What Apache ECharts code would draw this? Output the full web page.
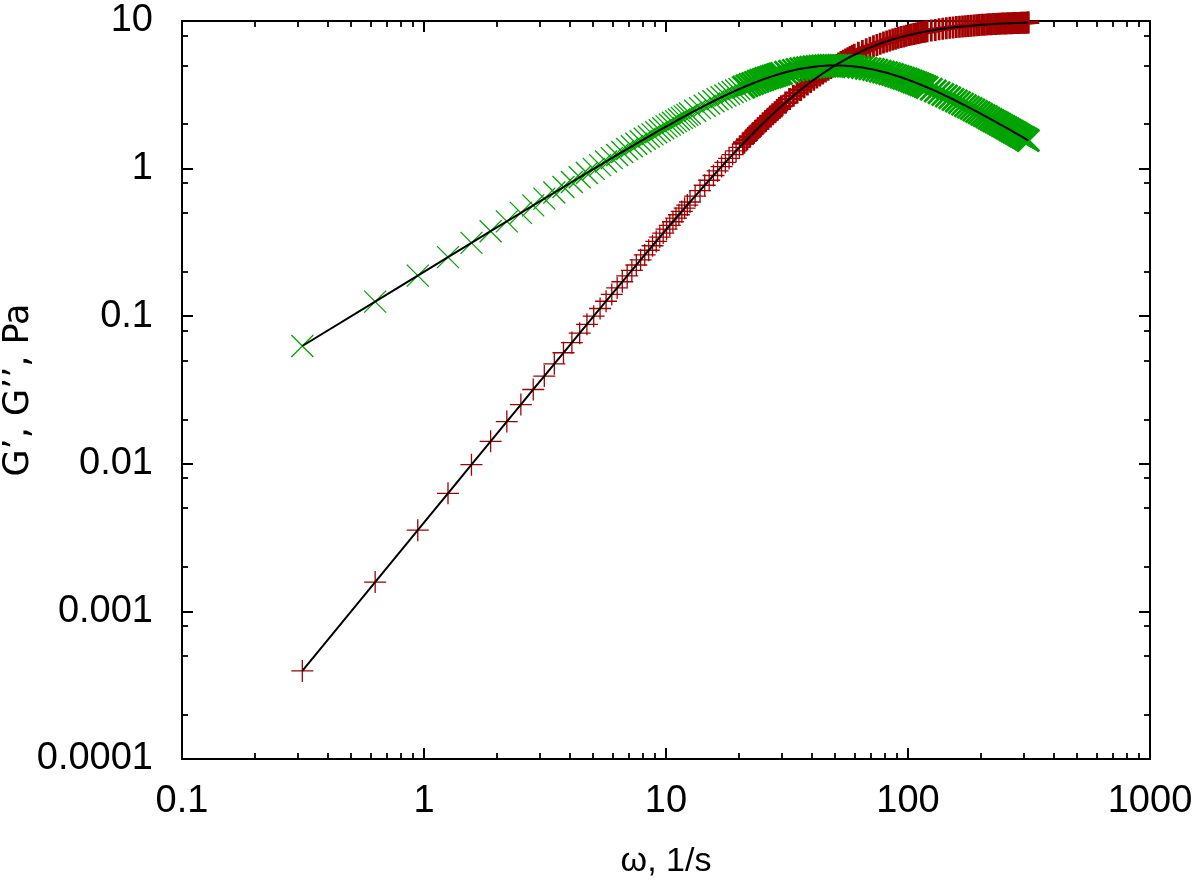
<!DOCTYPE html>
<html>
<head>
<meta charset="utf-8">
<title>G', G'' vs frequency</title>
<script src="https://cdn.jsdelivr.net/npm/echarts@6/dist/echarts.min.js"></script>
<style>
    html, body { margin: 0; padding: 0; background: #fff; }
    #chart { width: 1200px; height: 885px; }
</style>
</head>
<body>
<div id="chart"></div>
<script>
// angular frequency, 1/s
var omega = [
    0.3142, 0.6283, 0.9425, 1.2566, 1.5708, 1.8850, 2.1991, 2.5133, 2.8274, 3.1416,
    3.4558, 3.7699, 4.0841, 4.3982, 4.7124, 5.0265, 5.3407, 5.6549, 5.9690, 6.2832,
    6.5973, 6.9115, 7.2257, 7.5398, 7.8540, 8.1681, 8.4823, 8.7965, 9.1106, 9.4248,
    9.7389, 10.053, 10.367, 10.681, 10.996, 11.310, 11.624, 11.938, 12.252, 12.566,
    13.195, 13.823, 14.451, 15.080, 15.708, 16.336, 16.965, 17.593, 18.221, 18.850,
    19.478, 20.106, 20.735,
    21.0, 21.6, 22.2, 22.8, 23.4, 24.0, 24.6, 25.2, 25.8, 26.4, 27.0, 27.6, 28.2, 28.8, 29.4, 30.0,
    31.2, 32.4, 33.6, 34.8, 36.0, 37.2, 38.4, 39.6, 40.8, 42.0, 43.2, 44.4, 45.6, 46.8, 48.0,
    49.2, 50.4, 51.6, 52.8, 54.0, 55.2, 56.4, 57.6, 58.8, 60.0,
    62.4, 64.8, 67.2, 69.6, 72.0, 74.4, 76.8, 79.2, 81.6, 84.0, 86.4, 88.8, 91.2, 93.6, 96.0,
    98.4, 100.8, 103.2, 105.6, 108.0, 110.4, 112.8, 115.2, 117.6, 120.0,
    124.8, 129.6, 134.4, 139.2, 144.0, 148.8, 153.6, 158.4, 163.2, 168.0, 172.8, 177.6, 182.4,
    187.2, 192.0, 196.8, 201.6, 206.4, 211.2, 216.0, 220.8, 225.6, 230.4, 235.2, 240.0, 244.8,
    249.6, 254.4, 259.2, 264.0, 268.8, 273.6, 278.4, 283.2, 288.0, 292.8, 297.6, 302.4, 307.2,
    312.0, 314.16
];

// storage modulus G', Pa
var gStorage = [
    0.0003948, 0.001579, 0.003552, 0.006313, 0.009860, 0.01419, 0.01931, 0.02520, 0.03188, 0.03932,
    0.04754, 0.05653, 0.06628, 0.07678, 0.08804, 0.1001, 0.1128, 0.1263, 0.1405, 0.1555,
    0.1711, 0.1875, 0.2046, 0.2223, 0.2408, 0.2599, 0.2798, 0.3002, 0.3213, 0.3431,
    0.3655, 0.3886, 0.4122, 0.4365, 0.4613, 0.4867, 0.5128, 0.5393, 0.5665, 0.5941,
    0.6511, 0.7100, 0.7710, 0.8338, 0.8983, 0.9645, 1.032, 1.102, 1.172, 1.244,
    1.318, 1.392, 1.467,
    1.499, 1.573, 1.647, 1.721, 1.797, 1.873, 1.949, 2.026, 2.103, 2.180, 2.258, 2.335, 2.413, 2.491, 2.569, 2.647,
    2.803, 2.957, 3.111, 3.263, 3.414, 3.563, 3.710, 3.855, 3.997, 4.137, 4.274, 4.409, 4.541, 4.670, 4.796,
    4.919, 5.040, 5.157, 5.272, 5.384, 5.493, 5.599, 5.703, 5.804, 5.902,
    6.090, 6.268, 6.437, 6.596, 6.746, 6.889, 7.023, 7.150, 7.270, 7.384, 7.491, 7.593, 7.689, 7.780, 7.866,
    7.948, 8.025, 8.099, 8.169, 8.235, 8.298, 8.358, 8.415, 8.469, 8.521,
    8.617, 8.704, 8.784, 8.857, 8.924, 8.985, 9.042, 9.094, 9.142, 9.186, 9.227, 9.266, 9.301,
    9.334, 9.365, 9.394, 9.421, 9.446, 9.469, 9.491, 9.512, 9.532, 9.550, 9.568, 9.584, 9.600,
    9.614, 9.628, 9.641, 9.654, 9.666, 9.677, 9.688, 9.698, 9.707, 9.717, 9.725, 9.734, 9.742,
    9.750, 9.753
];

// loss modulus G'', Pa
var gLoss = [
    0.06283, 0.1256, 0.1884, 0.2512, 0.3139, 0.3765, 0.4390, 0.5014, 0.5637, 0.6259,
    0.6879, 0.7497, 0.8114, 0.8729, 0.9342, 0.9953, 1.056, 1.117, 1.177, 1.237,
    1.297, 1.356, 1.416, 1.474, 1.533, 1.591, 1.649, 1.706, 1.764, 1.820,
    1.877, 1.933, 1.988, 2.043, 2.098, 2.152, 2.206, 2.259, 2.312, 2.364,
    2.467, 2.568, 2.667, 2.764, 2.859, 2.952, 3.043, 3.131, 3.217, 3.301,
    3.382, 3.462, 3.538,
    3.570, 3.641, 3.709, 3.775, 3.839, 3.901, 3.961, 4.019, 4.075, 4.129, 4.181, 4.231, 4.279, 4.325, 4.369, 4.412,
    4.491, 4.564, 4.629, 4.689, 4.742, 4.789, 4.831, 4.867, 4.898, 4.925, 4.947, 4.965, 4.979, 4.989, 4.996,
    4.999, 5.000, 4.998, 4.993, 4.985, 4.976, 4.964, 4.950, 4.935, 4.918,
    4.880, 4.837, 4.789, 4.738, 4.685, 4.630, 4.572, 4.514, 4.455, 4.395, 4.335, 4.275, 4.215, 4.156, 4.097,
    4.039, 3.981, 3.924, 3.868, 3.812, 3.758, 3.705, 3.652, 3.601, 3.550,
    3.452, 3.358, 3.268, 3.181, 3.099, 3.019, 2.943, 2.871, 2.801, 2.734, 2.670, 2.609, 2.550,
    2.493, 2.439, 2.387, 2.336, 2.288, 2.242, 2.197, 2.154, 2.113, 2.073, 2.034, 1.997, 1.961,
    1.926, 1.892, 1.860, 1.828, 1.798, 1.768, 1.740, 1.712, 1.685, 1.659, 1.634, 1.609, 1.586,
    1.562, 1.552
];

// axis ranges (decades) and minor tick multipliers
var xRange = [0.1, 1000];
var yRange = [0.0001, 10];
var xMinorSteps = [2, 3, 4, 5, 6, 7, 8, 9];
var yMinorSteps = [2, 5, 8];

var FONT = '"Liberation Sans", Arial, Helvetica, sans-serif';
var RED = '#a30000';
var GREEN = '#00a300';
var BLACK = '#000';
// from this point on the measured points overlap into a solid band
var DENSE_FROM = 53;

// minor ticks are placed on helper linear axes running in log10 units
function minorPositions(range, steps) {
    var out = [];
    var d0 = Math.round(Math.log10(range[0]));
    var d1 = Math.round(Math.log10(range[1]));
    for (var d = d0; d < d1; d++) {
        steps.forEach(function (m) { out.push(d + Math.log10(m)); });
    }
    return out;
}

function pairs(ys) {
    return omega.map(function (w, i) { return [w, ys[i]]; });
}

function markerPoints(ys) {
    return omega.map(function (w, i) {
        var item = { value: [w, ys[i]] };
        if (i >= DENSE_FROM) item.itemStyle = { borderWidth: 2.8 };
        return item;
    });
}

function logLabel(v) {
    return String(parseFloat(Number(v).toPrecision(6)));
}

var chart = echarts.init(document.getElementById('chart'));

var lineStyle = { color: BLACK, width: 2 };

function majorAxis(pos, range, extra) {
    var ax = {
        type: 'log',
        logBase: 10,
        min: range[0],
        max: range[1],
        position: pos,
        axisLine: { show: true, onZero: false, lineStyle: lineStyle },
        axisTick: { show: true, inside: true, length: 11, lineStyle: lineStyle },
        axisLabel: { show: false },
        splitLine: { show: false }
    };
    return Object.assign(ax, extra || {});
}

function minorAxis(pos, range, steps) {
    return {
        type: 'value',
        min: Math.log10(range[0]),
        max: Math.log10(range[1]),
        position: pos,
        axisLine: { show: false, onZero: false },
        axisTick: {
            show: true, inside: true, length: 6,
            customValues: minorPositions(range, steps),
            lineStyle: { color: BLACK, width: 1.8 }
        },
        axisLabel: { show: false },
        splitLine: { show: false }
    };
}

var option = {
    backgroundColor: '#fff',
    animation: false,
    textStyle: { fontFamily: FONT },
    grid: {
        left: 182, right: 50, top: 21, bottom: 126,
        containLabel: false,
        outerBoundsMode: 'none'
    },
    xAxis: [
        majorAxis('bottom', xRange, {
            name: 'ω, 1/s',
            nameLocation: 'middle',
            nameGap: 86,
            nameTextStyle: { fontSize: 34, color: BLACK, fontFamily: FONT },
            axisLabel: { show: true, fontSize: 38, color: BLACK, fontFamily: FONT, margin: 24, formatter: logLabel }
        }),
        majorAxis('top', xRange),
        minorAxis('bottom', xRange, xMinorSteps),
        minorAxis('top', xRange, xMinorSteps)
    ],
    yAxis: [
        majorAxis('left', yRange, {
            name: 'G’, G’’, Pa',
            nameLocation: 'middle',
            nameGap: 146,
            nameMoveOverlap: false,
            nameTextStyle: { fontSize: 35, color: BLACK, fontFamily: '"DejaVu Sans", sans-serif' },
            axisLabel: { show: true, fontSize: 38, color: BLACK, fontFamily: FONT, margin: 29, formatter: logLabel }
        }),
        majorAxis('right', yRange),
        minorAxis('left', yRange, yMinorSteps),
        minorAxis('right', yRange, yMinorSteps)
    ],
    series: [
        {
            name: 'G’',
            type: 'scatter',
            xAxisIndex: 0, yAxisIndex: 0,
            data: markerPoints(gStorage),
            symbol: 'path://M0,-10L0,10M-10,0L10,0',
            symbolSize: 22,
            clip: false,
            itemStyle: { color: RED, borderColor: RED, borderWidth: 1.3, opacity: 1 }
        },
        {
            name: 'G’’',
            type: 'scatter',
            xAxisIndex: 0, yAxisIndex: 0,
            data: markerPoints(gLoss),
            symbol: 'path://M-10,-10L10,10M-10,10L10,-10',
            symbolSize: 22,
            clip: false,
            itemStyle: { color: GREEN, borderColor: GREEN, borderWidth: 1.3, opacity: 1 }
        },
        {
            name: 'G’ fit',
            type: 'line',
            xAxisIndex: 0, yAxisIndex: 0,
            data: pairs(gStorage),
            showSymbol: false,
            symbol: 'none',
            lineStyle: { color: BLACK, width: 2 }
        },
        {
            name: 'G’’ fit',
            type: 'line',
            xAxisIndex: 0, yAxisIndex: 0,
            data: pairs(gLoss),
            showSymbol: false,
            symbol: 'none',
            lineStyle: { color: BLACK, width: 2 }
        }
    ]
};

chart.setOption(option);
</script>
</body>
</html>
